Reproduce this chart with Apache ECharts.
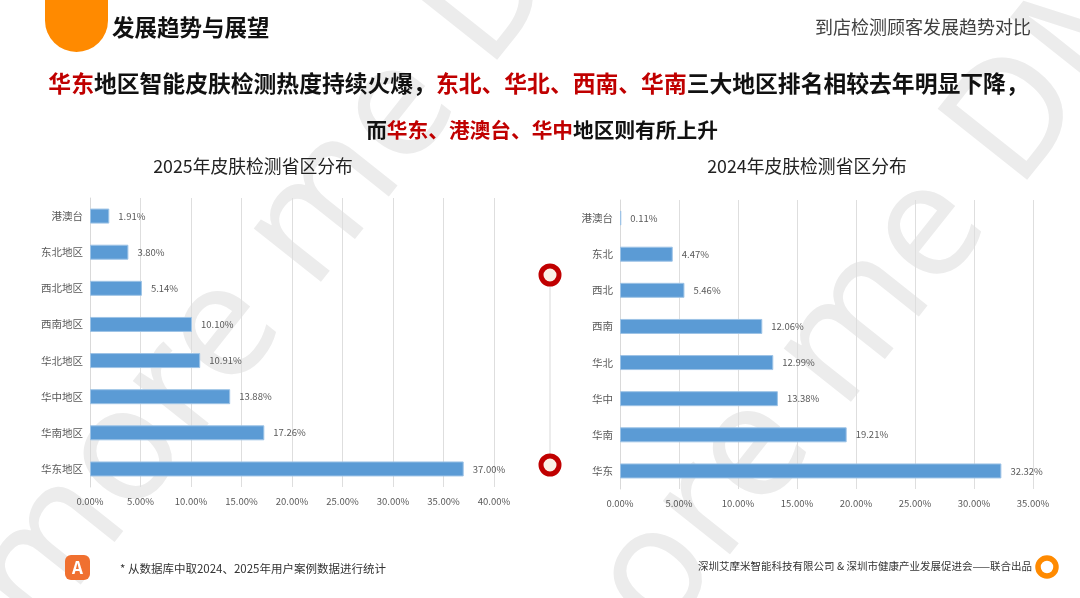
<!DOCTYPE html>
<html><head><meta charset="utf-8">
<script src="https://cdn.jsdelivr.net/npm/echarts@6/dist/echarts.min.js"></script>
<style>html,body{margin:0;padding:0;background:#fff}#c{width:1080px;height:598px}</style>
</head><body><div id="c"></div>
<script>
const cats2025 = ['港澳台','东北地区','西北地区','西南地区','华北地区','华中地区','华南地区','华东地区'];
const vals2025 = [1.91, 3.80, 5.14, 10.10, 10.91, 13.88, 17.26, 37.00];
const cats2024 = ['港澳台','东北','西北','西南','华北','华中','华南','华东'];
const vals2024 = [0.11, 4.47, 5.46, 12.06, 12.99, 13.38, 19.21, 32.32];
const title2025 = '2025年皮肤检测省区分布';
const title2024 = '2024年皮肤检测省区分布';

const F = '"Noto Sans CJK SC","Noto Sans",sans-serif';
const chart = echarts.init(document.getElementById('c'));
const pct = v => Number(v).toFixed(2) + '%';
const red = '#C00000';

function xAx(i, max) {
  return {gridIndex:i, type:'value', min:0, max:max, interval:5,
    axisLine:{show:false}, axisTick:{show:false},
    splitLine:{lineStyle:{color:'#dedede'}},
    axisLabel:{formatter:pct, fontSize:9.5, color:'#595959', fontFamily:F, margin:10}};
}
function yAx(i, cats) {
  return {gridIndex:i, type:'category', data:cats, inverse:true,
    axisLine:{lineStyle:{color:'#d9d9d9'}}, axisTick:{show:false},
    axisLabel:{fontSize:10.5, color:'#595959', fontFamily:F, margin:7}};
}
function ser(i, vals) {
  return {type:'bar', xAxisIndex:i, yAxisIndex:i, data:vals, barWidth:15,
    itemStyle:{color:'#5B9BD5', borderColor:'#9DC3E6', borderWidth:1},
    label:{show:true, position:'right', distance:9, formatter:p=>pct(p.value),
      fontSize:9.5, color:'#595959', fontFamily:F}, z:3};
}
function rich(sz){
  return {
    r:{fill:red, fontSize:sz, fontWeight:'bold', fontFamily:F},
    k:{fill:'#111', fontSize:sz, fontWeight:'bold', fontFamily:F}
  };
}
function wm(x,y,text,rot){
  return {type:'text', x:x, y:y, rotation:rot, z:-10, silent:true,
    style:{text:text, font:'400 160px "Noto Sans", sans-serif', fill:'#ececec'}};
}
chart.setOption({
  animation:false,
  backgroundColor:'#fff',
  grid:[
    {left:90, right:586, top:198, bottom:111},
    {left:620, right:47, top:200, bottom:109}
  ],
  xAxis:[xAx(0,40), xAx(1,35)],
  yAxis:[yAx(0,cats2025), yAx(1,cats2024)],
  series:[ser(0,vals2025), ser(1,vals2024)],
  graphic:[
    wm(-60,560,'more me DM',0.9),
    wm(470,680,'more me DM',0.9),
    {type:'rect', shape:{x:45, y:-10, width:63, height:62, r:[0,0,31.5,31.5]}, style:{fill:'#FF8A00'}, z:5},
    {type:'text', x:112, y:16, style:{text:'发展趋势与展望', font:'bold 22.5px '+F, fill:'#111'}, z:5},
    {type:'text', x:815, y:18, style:{text:'到店检测顾客发展趋势对比', font:'18px '+F, fill:'#404040'}, z:5},
    {type:'text', x:538.5, y:72, style:{text:'{r|华东}{k|地区智能皮肤检测热度持续火爆，}{r|东北、华北、西南、华南}{k|三大地区排名相较去年明显下降，}', rich:rich(22.8), align:'center'}, z:5},
    {type:'text', x:542, y:120, style:{text:'{k|而}{r|华东、港澳台、华中}{k|地区则有所上升}', rich:rich(20.7), align:'center'}, z:5},
    {type:'text', x:253, y:157, style:{text:title2025, font:'17.8px '+F, fill:'#222', align:'center'}, z:5},
    {type:'text', x:807, y:157, style:{text:title2024, font:'17.8px '+F, fill:'#222', align:'center'}, z:5},
    {type:'line', shape:{x1:550,y1:275,x2:550,y2:465}, style:{stroke:'#d9d9d9', lineWidth:1}, z:4},
    {type:'circle', shape:{cx:550, cy:275, r:9}, style:{fill:'#FBF1E6', stroke:'#C00000', lineWidth:5}, z:5},
    {type:'circle', shape:{cx:550, cy:465, r:9}, style:{fill:'#FBF1E6', stroke:'#C00000', lineWidth:5}, z:5},
    {type:'rect', shape:{x:65, y:555, width:25, height:25, r:6}, style:{fill:'#F07030'}, z:5},
    {type:'text', x:77.5, y:559, style:{text:'A', font:'bold 17px '+F, fill:'#fff', align:'center'}, z:6},
    {type:'text', x:120, y:563, style:{text:'* 从数据库中取2024、2025年用户案例数据进行统计', font:'11.5px '+F, fill:'#333'}, z:5},
    {type:'text', x:1032, y:561, style:{text:'深圳艾摩米智能科技有限公司 & 深圳市健康产业发展促进会——联合出品', font:'10.5px '+F, fill:'#333', align:'right'}, z:5},
    {type:'circle', shape:{cx:1047, cy:567, r:9}, style:{fill:'#fff', stroke:'#FF8A00', lineWidth:5.5}, z:5}
  ]
});
</script></body></html>
